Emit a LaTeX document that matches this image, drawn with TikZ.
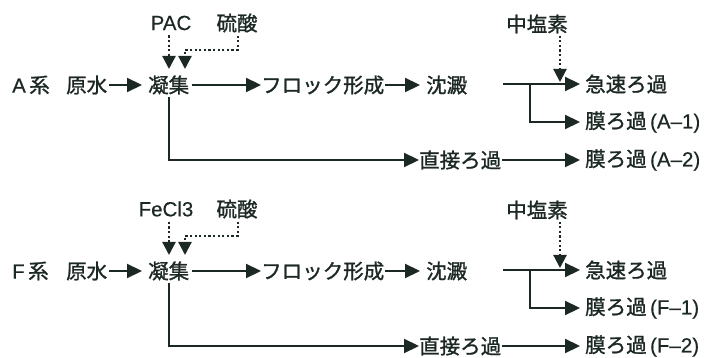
\documentclass[tikz,border=0pt]{standalone}
\usepackage{fontspec}
\setmainfont{Liberation Sans}[FakeBold=0.4]
\newfontfamily\jp{Noto Sans CJK JP}[FakeBold=1.2]
\usetikzlibrary{arrows.meta}
\definecolor{ink}{HTML}{1C2823}
\begin{document}
\begin{tikzpicture}[x=1pt,y=-1pt,
  lbl/.style={font=\fontsize{20.5}{21}\selectfont, text=ink, inner sep=0pt, anchor=west},
  clbl/.style={font=\fontsize{20.5}{21}\selectfont, text=ink, inner sep=0pt},
  flow/.style={draw=ink, line width=2.2pt, -{Triangle[length=15pt,width=14pt]}},
  feed/.style={draw=ink, line width=2.2pt, dash pattern=on 2.2pt off 2.4pt, -{Triangle[length=13pt,width=13pt]}}]
\useasboundingbox (0,0) rectangle (707,358);
\foreach \r/\yo/\sys/\chem/\cx in {a/0/A/PAC/171, f/186/F/FeCl3/166}{
\begin{scope}[yshift=-\yo pt]
  \node[lbl] (sys\r) at (12,85) {\sys\,{\jp 系}};
  \node[lbl] (raw\r) at (66,85) {\jp 原水};
  \node[lbl] (coag\r) at (148,85) {\jp 凝集};
  \node[lbl] (floc\r) at (261,85) {\jp フロック形成};
  \node[lbl] (sed\r) at (426,85) {\jp 沈澱};
  \node[lbl] (rapid\r) at (585,84) {\jp 急速ろ過};
  \node[lbl] (memb\r) at (585,122) {{\jp 膜ろ過}\,(\sys–1)};
  \node[lbl] (direct\r) at (419,160) {\jp 直接ろ過};
  \node[lbl] (memc\r) at (585,160) {{\jp 膜ろ過}\,(\sys–2)};
  \node[clbl] (chem\r) at (\cx,23) {\chem};
  \node[clbl] (acid\r) at (237,23) {\jp 硫酸};
  \node[clbl] (cl\r) at (537,24) {\jp 中塩素};
  \coordinate (sout\r) at (503,84);
  \coordinate (br\r) at (530,84);
  \coordinate (chin\r) at (169,69);
  \coordinate (acin\r) at (185,69);
  \coordinate (clin\r) at (560,82);
  \draw[flow, shorten <=2pt, shorten >=6pt] (raw\r) -- (coag\r);
  \draw[flow, shorten <=3pt] (coag\r) -- (floc\r);
  \draw[flow, shorten <=1pt, shorten >=6pt] (floc\r) -- (sed\r);
  \draw[flow, shorten >=5pt] (sout\r) -- (rapid\r.west);
  \draw[flow, shorten >=5pt] (br\r) |- (memb\r.west);
  \draw[flow, shorten <=2pt] (coag\r.south -| chin\r) |- (direct\r.west);
  \draw[flow, shorten <=1pt, shorten >=5pt] (direct\r) -- (memc\r);
  \draw[feed, shorten <=5pt] (chem\r.south -| chin\r) -- (chin\r);
  \draw[feed, shorten <=3pt] (acid\r.south -| 238,0) -- ++(0,17) -| (acin\r);
  \draw[feed, shorten <=2pt] (cl\r.south -| clin\r) -- (clin\r);
\end{scope}
}
\end{tikzpicture}
\end{document}
